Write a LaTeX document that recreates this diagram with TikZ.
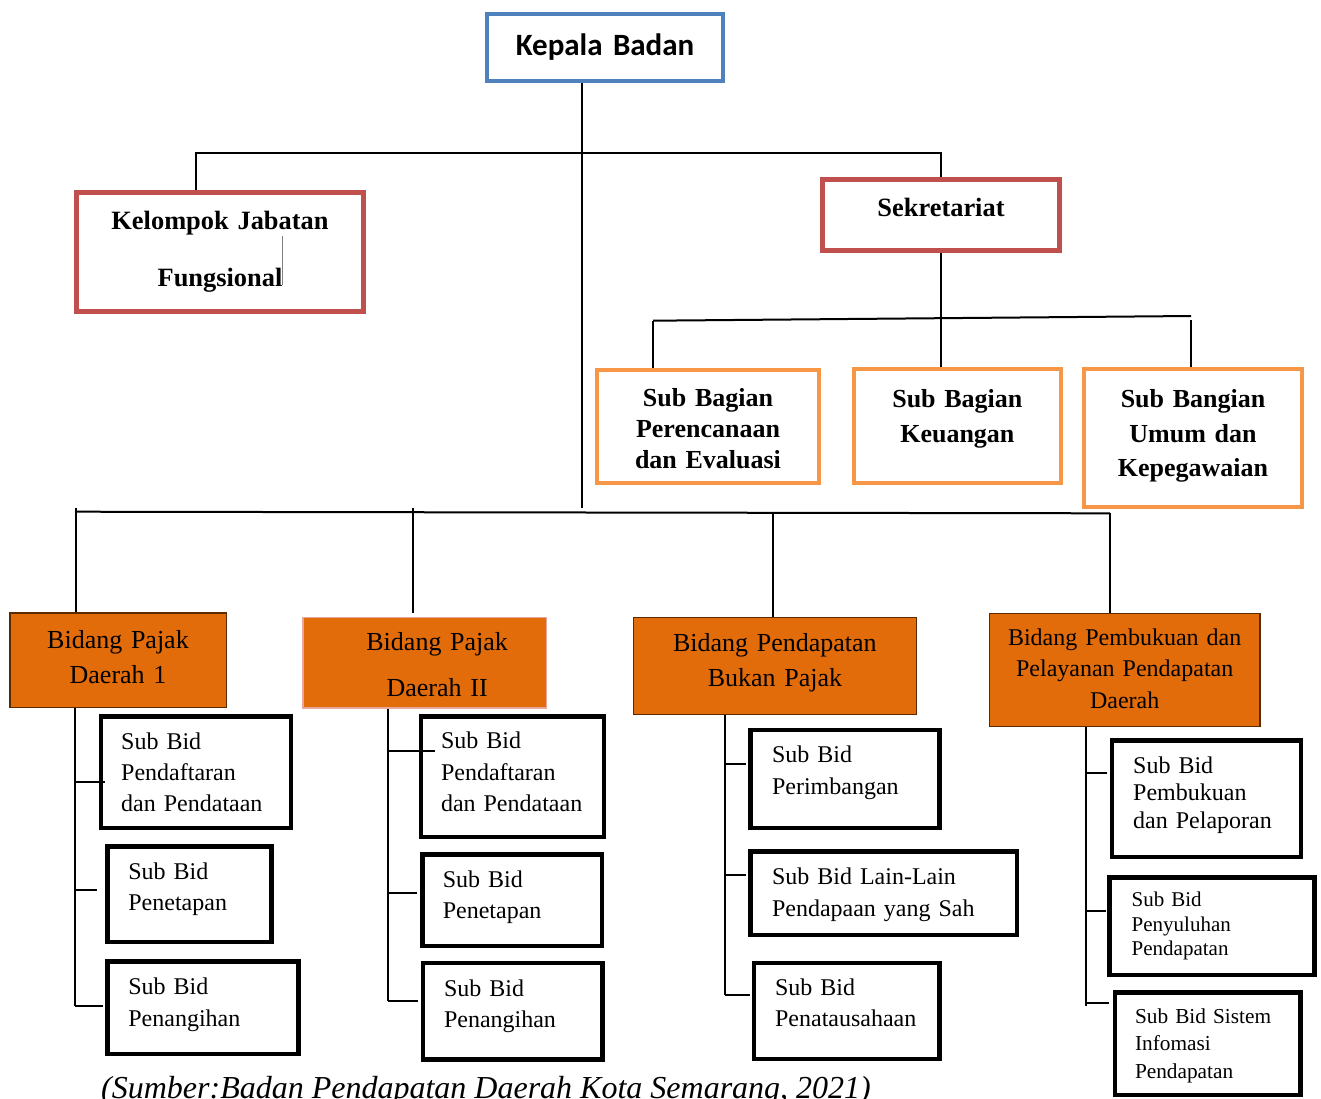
\documentclass[tikz,border=0pt]{standalone}
\usepackage{fontspec}
\setmainfont{Liberation Serif}
\newfontfamily\calib{Carlito}
\hyphenpenalty=10000
\newcommand\fsz[2]{\fontsize{#1}{#2}\selectfont}
\definecolor{kblue}{HTML}{4F81BD}
\definecolor{kred}{HTML}{C0504D}
\definecolor{korange}{HTML}{F79646}
\definecolor{kfill}{HTML}{E36C0A}
\definecolor{kedge}{HTML}{5A2A00}
\definecolor{kpink}{HTML}{E8A8A0}

\begin{document}
\begin{tikzpicture}[x=1pt,y=-1pt,
  tb/.style n args={4}{draw,rectangle,inner sep=0pt,minimum width=#1pt,minimum height=#2pt,
    text width=#3pt,text height=20pt,text depth=#4pt},
  head/.style={line width=4pt,draw=kblue,align=center},
  redbox/.style={line width=5pt,draw=kred,align=center,font=\bfseries\fsz{26.4}{57.4}},
  orbox/.style={line width=4pt,draw=korange,align=center},
  bid/.style={line width=1.2pt,draw=kedge,fill=kfill,align=center},
  sub/.style={line width=4.5pt,align=left},
  conn/.style={line width=2pt}]
\useasboundingbox (0,0) rectangle (1321,1098);

% pimpinan dan sekretariat
\node[head,tb={236}{67}{230}{5},font=\calib\bfseries\fsz{31}{36}] (kepala) at (605,47.5) {Kepala Badan};
\node[redbox,tb={287}{119}{270}{65.4}] (kjf) at (220,252) {Kelompok Jabatan\\Fungsional};
\node[redbox,tb={237}{70.4}{220}{16.6}] (sekr) at (941,215) {Sekretariat};
\draw[gray,line width=1.6pt] (282.3,236) -- (282.3,284.5);

\node[orbox,tb={221.7}{112.7}{210}{60},font=\bfseries\fsz{26}{30.8}] (subA) at (708,426.7) {Sub Bagian\\Perencanaan\\dan Evaluasi};
\node[orbox,tb={207.3}{113.7}{200}{57.7},font=\bfseries\fsz{26}{35.4}] (subB) at (957.35,426.15) {Sub Bagian\\Keuangan};
\node[orbox,tb={218.1}{138}{210}{82},font=\bfseries\fsz{26}{34.7}] (subC) at (1193,438.3) {Sub Bangian\\Umum dan\\Kepegawaian};

% bidang
\node[bid,tb={216.2}{94.8}{210}{44},font=\fsz{26}{35}] (b1) at (118,660.3) {Bidang Pajak\\Daerah 1};
\node[bid,draw=kpink,line width=1.6pt,tb={243.7}{90.4}{236}{43.6},font=\fsz{26}{46}] (b2) at (424.65,662.5) {\hspace*{25pt}Bidang Pajak\\\hspace*{25pt}Daerah II};
\node[bid,tb={283.6}{97.1}{276}{48.3},font=\fsz{26}{35}] (b3) at (774.9,665.85) {Bidang Pendapatan\\Bukan Pajak};
\node[bid,tb={270.6}{113.4}{264}{70},font=\fsz{24}{31.7}] (b4) at (1124.7,670) {Bidang Pembukuan dan\\Pelayanan Pendapatan\\Daerah};

% sub bidang
\node[sub,tb={189.9}{111.5}{149.8}{66},font=\fsz{24}{31.4}] (s11) at (196.1,772) {Sub Bid\\Pendaftaran\\dan~Pendataan};
\node[sub,tb={163.9}{95.2}{122}{49.7},font=\fsz{24}{31.4}] (s12) at (189.4,894.15) {Sub Bid\\Penetapan};
\node[sub,tb={191.2}{92.2}{149.3}{47.3},font=\fsz{24}{32}] (s13) at (203.05,1007.65) {Sub Bid\\Penangihan};
\node[sub,tb={182.7}{120.8}{142.8}{76.7},font=\fsz{24}{31.7}] (s21) at (512.4,776.65) {Sub Bid\\Pendaftaran\\dan~Pendataan};
\node[sub,tb={179.5}{91.5}{138.4}{46},font=\fsz{24}{31}] (s22) at (512,900.3) {Sub Bid\\Penetapan};
\node[sub,tb={179.4}{96.5}{137.7}{50.4},font=\fsz{24}{31.3}] (s23) at (512.85,1011.2) {Sub Bid\\Penangihan};
\node[sub,tb={189.1}{97.8}{146.2}{52.3},font=\fsz{24}{31.6}] (s31) at (845.1,778.85) {Sub Bid\\Perimbangan};
\node[sub,tb={266.4}{83.5}{223.5}{38},font=\fsz{24}{31.7}] (s32) at (883.75,893.3) {Sub Bid Lain-Lain\\Pendapaan~yang~Sah};
\node[sub,tb={185.5}{95.8}{143.6}{51.7},font=\fsz{24}{31.7}] (s33) at (846.9,1010.85) {Sub Bid\\Penatausahaan};
\node[sub,tb={189}{116.5}{146.1}{71},font=\fsz{24}{27.5}] (s41) at (1206.25,798.8) {Sub Bid\\Pembukuan\\dan~Pelaporan};
\node[sub,tb={204.9}{97.8}{160.6}{58.9},font=\fsz{21}{24.5}] (s42) at (1212,926.15) {Sub Bid\\Penyuluhan\\Pendapatan};
\node[sub,tb={185.5}{102.8}{145.4}{60.7},font=\fsz{21.3}{27.5}] (s43) at (1207.7,1043.65) {Sub Bid Sistem\\Infomasi\\Pendapatan};

\node[anchor=base west,inner sep=0pt,font=\itshape\fsz{32}{38}] (sumber) at (101,1098) {(Sumber:Badan Pendapatan Daerah Kota Semarang, 2021)};

% garis atas
\coordinate (hub) at (582,507.7);
\draw[conn] (kepala.south -| hub) -- (hub);
\draw[conn] ([xshift=-24pt]kjf.north) -- ++(0,-37.5) -| (sekr.north);
\draw[conn] (sekr.south) -- (sekr.south |- subB.north);
\coordinate (sbl) at (653,320.7);
\coordinate (sbr) at (1191,316);
\draw[conn] (sbl) -- (sbr);
\draw[conn] (sbl) -- (sbl |- subA.north);
\draw[conn] (subC.north -| sbr) -- ++(0,-47.6);

% garis bidang
\coordinate (lbl) at (75,511.7);
\coordinate (lbr) at (1110,513.3);
\draw[conn] (lbl) -- (lbr);
\coordinate (d1) at (76,508);
\coordinate (d2) at (412.5,508);
\coordinate (d3) at (773,512.5);
\coordinate (d4) at (1110,513.3);
\draw[conn] (d1) -- (d1 |- b1.north);
\draw[conn] (d2) -- ++(0,104.7);
\draw[conn] (d3) -- (d3 |- b3.north);
\draw[conn] (d4) -- (d4 |- b4.north);

% garis sub bidang
\coordinate (t1) at (75,1006);
\coordinate (t2) at (388,1000.7);
\coordinate (t3) at (725,995);
\coordinate (t4) at (1086,1006);
\draw[conn] (t1 |- b1.south) -- (t1);
\draw[conn] (t2 |- b2.south) -- (t2);
\draw[conn] (t3 |- b3.south) -- (t3);
\draw[conn] (t4 |- b4.south) -- (t4);
\draw[conn] ([xshift=6.15pt,yshift=-10.3pt]s11.west) -- ([yshift=-10.3pt]s11.west -| t1);
\draw[conn] ([xshift=-8.55pt,yshift=4.15pt]s12.west) -- ([yshift=4.15pt]s12.west -| t1);
\draw[conn] ([xshift=-2.25pt,yshift=1.65pt]s13.west) -- ([yshift=1.65pt]s13.west -| t1);
\draw[conn] ([xshift=15.85pt,yshift=25.95pt]s21.west) -- ([yshift=25.95pt]s21.west -| t2);
\draw[conn] ([xshift=-2.65pt,yshift=7.6pt]s22.west) -- ([yshift=7.6pt]s22.west -| t2);
\draw[conn] ([xshift=-3.15pt,yshift=10.5pt]s23.west) -- ([yshift=10.5pt]s23.west -| t2);
\draw[conn] ([xshift=-2.25pt,yshift=14.55pt]s31.west) -- ([yshift=14.55pt]s31.west -| t3);
\draw[conn] ([xshift=-2.25pt,yshift=18.3pt]s32.west) -- ([yshift=18.3pt]s32.west -| t3);
\draw[conn] ([xshift=-2.25pt,yshift=15.85pt]s33.west) -- ([yshift=15.85pt]s33.west -| t3);
\draw[conn] ([xshift=-2.25pt,yshift=26.1pt]s41.west) -- ([yshift=26.1pt]s41.west -| t4);
\draw[conn] ([xshift=-1.55pt,yshift=15.45pt]s42.west) -- ([yshift=15.45pt]s42.west -| t4);
\draw[conn] ([xshift=-3.25pt,yshift=40.35pt]s43.west) -- ([yshift=40.35pt]s43.west -| t4);
\end{tikzpicture}
\end{document}
